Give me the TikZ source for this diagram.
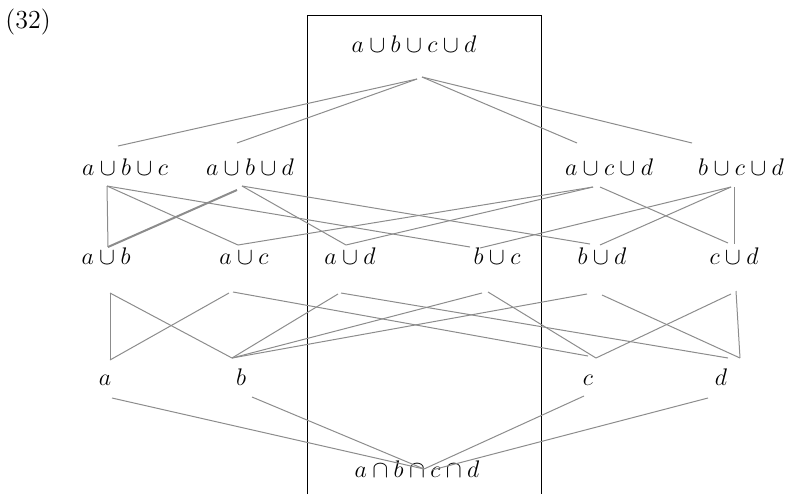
\documentclass[tikz,border=0pt]{standalone}
\usetikzlibrary{calc}
\definecolor{linha}{RGB}{140,140,140}
\tikzset{
  term/.style={anchor=base, inner sep=0pt, font=\fontsize{12}{14}\selectfont},
  link/.style={draw=linha, line width=0.5pt},
  linkB/.style={link, line width=1pt},
  frame/.style={draw=black, line width=0.5pt},
}
\begin{document}
\begin{tikzpicture}[x=0.5pt,y=-0.5pt]
\useasboundingbox (0,0) rectangle (788,494);

\node[term, anchor=base west, font=\fontsize{13}{15}\selectfont] (num) at (5,28) {(32)};

% the box round the middle column, open at the bottom
\draw[frame] (307,494) -- (307,15) -- (541,15) -- (541,494);

% terms
\node[term] (abcd) at (414,52) {$a \cup b \cup c \cup d$};

\node[term] (abc) at (125,175) {$a \cup b \cup c$};
\node[term] (abd) at (250,175) {$a \cup b \cup d$};
\node[term] (acd) at (609,175) {$a \cup c \cup d$};
\node[term] (bcd) at (741,175) {$b \cup c \cup d$};

\node[term] (ab) at (106,264) {$a \cup b$};
\node[term] (ac) at (244,264) {$a \cup c$};
\node[term] (ad) at (350,264) {$a \cup d$};
\node[term] (bc) at (497,264) {$b \cup c$};
\node[term] (bd) at (602,264) {$b \cup d$};
\node[term] (cd) at (734,264) {$c \cup d$};

\node[term] (a) at (105,385) {$a$};
\node[term] (b) at (241,385) {$b$};
\node[term] (c) at (588,385) {$c$};
\node[term] (d) at (721,385) {$d$};

\node[term] (meet) at (417,477) {$a \cap b \cap c \cap d$};

% ends of the lines
\coordinate (abcd-s) at (417,79);
\coordinate (abcd-s2) at (422,77);

\coordinate (abc-n) at (118,146);
\coordinate (abc-s) at (107,186);
\coordinate (abd-n) at (237,143);
\coordinate (abd-s) at (242,186);
\coordinate (abd-s2) at (237,190);
\coordinate (acd-n) at (577,143);
\coordinate (acd-s) at (593,187);
\coordinate (acd-s2) at (600,187);
\coordinate (bcd-n) at (692,143);
\coordinate (bcd-s) at (731,187);
\coordinate (bcd-s2) at (734,187);

\coordinate (ab-n) at (108,247);
\coordinate (ab-s) at (110,293);
\coordinate (ac-n) at (238,245);
\coordinate (ac-s) at (229,293);
\coordinate (ac-s2) at (233,292);
\coordinate (ad-n) at (346,245);
\coordinate (ad-s) at (338,294);
\coordinate (ad-s2) at (341,293);
\coordinate (bc-n) at (470,247);
\coordinate (bc-n2) at (480,248);
\coordinate (bc-s) at (482,293);
\coordinate (bc-s2) at (488,292);
\coordinate (bd-n) at (590,244);
\coordinate (bd-n2) at (600,245);
\coordinate (bd-s) at (587,294);
\coordinate (bd-s2) at (602,295);
\coordinate (cd-n) at (728,243);
\coordinate (cd-n2) at (734,244);
\coordinate (cd-s) at (731,294);
\coordinate (cd-s2) at (736,291);

\coordinate (a-n) at (110,360);
\coordinate (a-s) at (112,398);
\coordinate (b-n) at (232,358);
\coordinate (b-s) at (252,397);
\coordinate (c-n) at (588,356);
\coordinate (c-n2) at (596,358);
\coordinate (c-s) at (584,396);
\coordinate (d-n) at (728,358);
\coordinate (d-n2) at (740,358);
\coordinate (d-s) at (708,398);

\coordinate (meet-n) at (424,469);
\coordinate (meet-n2) at (432,470);

% top to the three-term joins
\draw[link] (abcd-s) -- (abc-n);
\draw[link] (abcd-s) -- (abd-n);
\draw[link] (abcd-s2) -- (acd-n);
\draw[link] (abcd-s2) -- (bcd-n);

% three-term joins to two-term joins
\draw[link] (abc-s) -- (ab-n);
\draw[link] (abc-s) -- (ac-n);
\draw[link] (abc-s) -- (bc-n);
\draw[linkB] (abd-s2) -- (ab-n);
\draw[link] (abd-s) -- (ad-n);
\draw[link] (abd-s) -- (bd-n);
\draw[link] (acd-s) -- (ac-n);
\draw[link] (acd-s) -- (ad-n);
\draw[link] (acd-s2) -- (cd-n);
\draw[link] (bcd-s) -- (bc-n2);
\draw[link] (bcd-s) -- (bd-n2);
\draw[link] (bcd-s2) -- (cd-n2);

% two-term joins to atoms
\draw[link] (ab-s) -- (a-n);
\draw[link] (ab-s) -- (b-n);
\draw[link] (ac-s) -- (a-n);
\draw[link] (ac-s2) -- (c-n);
\draw[link] (ad-s) -- (b-n);
\draw[link] (ad-s2) -- (d-n);
\draw[link] (bc-s) -- (b-n);
\draw[link] (bc-s2) -- (c-n2);
\draw[link] (bd-s) -- (b-n);
\draw[link] (bd-s2) -- (d-n2);
\draw[link] (cd-s) -- (c-n2);
\draw[link] (cd-s2) -- (d-n2);

% atoms to the meet
\draw[link] (a-s) -- (meet-n);
\draw[link] (b-s) -- (meet-n);
\draw[link] (c-s) -- (meet-n);
\draw[link] (d-s) -- (meet-n2);

\end{tikzpicture}
\end{document}
